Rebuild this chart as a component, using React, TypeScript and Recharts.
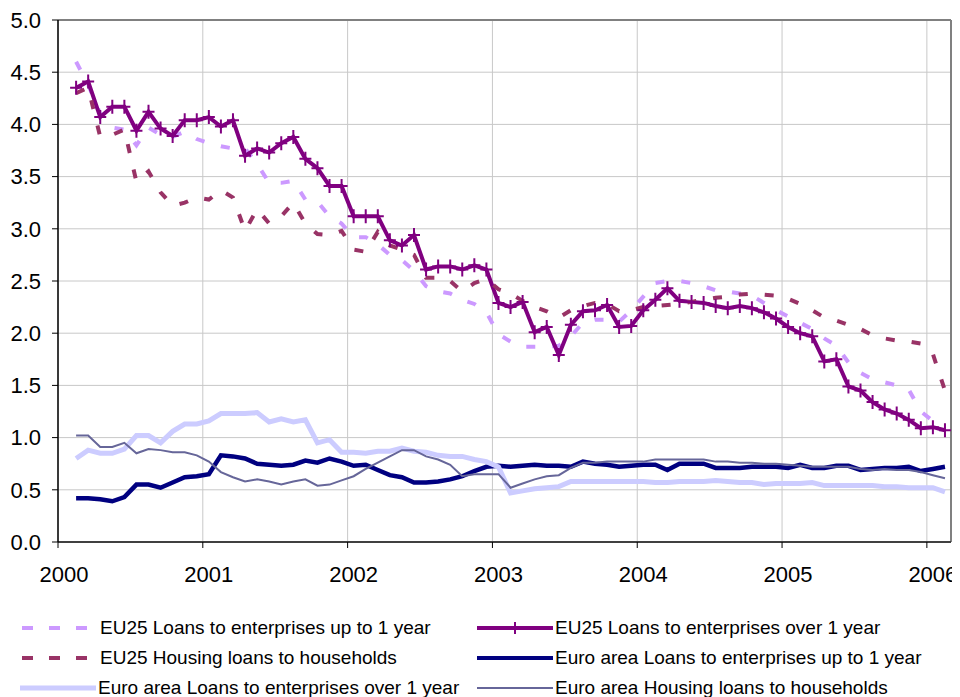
import React from "react";
import { LineChart, Line, XAxis, YAxis, CartesianGrid, ReferenceLine } from "recharts";

const periods = [
  "2000-02","2000-03","2000-04","2000-05","2000-06","2000-07","2000-08","2000-09","2000-10","2000-11","2000-12",
  "2001-01","2001-02","2001-03","2001-04","2001-05","2001-06","2001-07","2001-08","2001-09","2001-10","2001-11","2001-12",
  "2002-01","2002-02","2002-03","2002-04","2002-05","2002-06","2002-07","2002-08","2002-09","2002-10","2002-11","2002-12",
  "2003-01","2003-02","2003-03","2003-04","2003-05","2003-06","2003-07","2003-08","2003-09","2003-10","2003-11","2003-12",
  "2004-01","2004-02","2004-03","2004-04","2004-05","2004-06","2004-07","2004-08","2004-09","2004-10","2004-11","2004-12",
  "2005-01","2005-02","2005-03","2005-04","2005-05","2005-06","2005-07","2005-08","2005-09","2005-10","2005-11","2005-12",
  "2006-01","2006-02",
];

const eu25Short = [
  4.60, 4.38, 4.10, 3.97, 3.95, 3.80, 3.97, 3.90, 3.88, 3.93,
  3.86, 3.82, 3.79, 3.77, 3.77, 3.62, 3.44, 3.44, 3.46, 3.28,
  3.26, 3.12, 3.05, 2.92, 2.92, 2.85, 2.75, 2.70, 2.60, 2.45,
  2.40, 2.38, 2.32, 2.28, 2.20, 1.99, 1.92, 1.87, 1.87, 1.87,
  1.88, 1.97, 2.10, 2.13, 2.13, 2.11, 2.22, 2.35, 2.48, 2.50,
  2.50, 2.48, 2.45, 2.41, 2.40, 2.38, 2.36, 2.29, 2.22, 2.16,
  2.10, 2.04, 1.95, 1.88, 1.72, 1.62, 1.56, 1.53, 1.50, 1.46,
  1.25, 1.16, 1.15,
];

const eu25Long = [
  4.35, 4.41, 4.07, 4.17, 4.17, 3.94, 4.12, 3.96, 3.89, 4.04,
  4.04, 4.07, 3.98, 4.04, 3.70, 3.77, 3.73, 3.82, 3.88, 3.67,
  3.58, 3.41, 3.41, 3.12, 3.12, 3.12, 2.89, 2.84, 2.94, 2.61,
  2.64, 2.64, 2.61, 2.65, 2.61, 2.29, 2.25, 2.30, 2.01, 2.06,
  1.79, 2.08, 2.21, 2.22, 2.27, 2.06, 2.07, 2.22, 2.32, 2.43,
  2.31, 2.30, 2.29, 2.26, 2.24, 2.26, 2.24, 2.20, 2.14, 2.06,
  2.00, 1.97, 1.73, 1.75, 1.49, 1.45, 1.34, 1.27, 1.23, 1.17,
  1.09, 1.10, 1.07,
];

const eu25Housing = [
  4.30, 4.35, 3.88, 3.90, 3.95, 3.45, 3.55, 3.35, 3.22, 3.25,
  3.30, 3.28, 3.37, 3.30, 2.98, 3.19, 3.05, 3.12, 3.25, 3.05,
  2.95, 2.94, 2.98, 2.80, 2.78, 2.97, 2.84, 2.80, 2.75, 2.53,
  2.53, 2.50, 2.40, 2.48, 2.52, 2.42, 2.38, 2.31, 2.25, 2.21,
  2.15, 2.22, 2.26, 2.29, 2.28, 2.21, 2.22, 2.25, 2.26, 2.27,
  2.28, 2.30, 2.32, 2.34, 2.35, 2.37, 2.38, 2.37, 2.36, 2.33,
  2.28, 2.22, 2.15, 2.12, 2.08, 2.04, 1.98, 1.95, 1.93, 1.92,
  1.90, 1.80, 1.45,
];

const euroShort = [
  0.42, 0.42, 0.41, 0.39, 0.43, 0.55, 0.55, 0.52, 0.57, 0.62,
  0.63, 0.65, 0.83, 0.82, 0.80, 0.75, 0.74, 0.73, 0.74, 0.78,
  0.76, 0.80, 0.77, 0.73, 0.74, 0.69, 0.64, 0.62, 0.57, 0.57,
  0.58, 0.60, 0.63, 0.68, 0.72, 0.73, 0.72, 0.73, 0.74, 0.73,
  0.73, 0.72, 0.77, 0.75, 0.74, 0.72, 0.73, 0.74, 0.74, 0.69,
  0.75, 0.75, 0.75, 0.71, 0.71, 0.71, 0.72, 0.72, 0.72, 0.71,
  0.74, 0.71, 0.71, 0.73, 0.73, 0.69, 0.70, 0.71, 0.71, 0.72,
  0.68, 0.70, 0.72,
];

const euroLong = [
  0.80, 0.88, 0.85, 0.85, 0.89, 1.02, 1.02, 0.95, 1.06, 1.13,
  1.13, 1.16, 1.23, 1.23, 1.23, 1.24, 1.15, 1.18, 1.15, 1.17,
  0.95, 0.98, 0.86, 0.86, 0.85, 0.87, 0.87, 0.90, 0.87, 0.86,
  0.83, 0.82, 0.82, 0.79, 0.77, 0.72, 0.47, 0.49, 0.51, 0.52,
  0.53, 0.58, 0.58, 0.58, 0.58, 0.58, 0.58, 0.58, 0.57, 0.57,
  0.58, 0.58, 0.58, 0.59, 0.58, 0.57, 0.57, 0.55, 0.56, 0.56,
  0.56, 0.57, 0.54, 0.54, 0.54, 0.54, 0.54, 0.53, 0.53, 0.52,
  0.52, 0.52, 0.48,
];

const euroHousing = [
  1.02, 1.02, 0.91, 0.91, 0.95, 0.85, 0.89, 0.88, 0.86, 0.86,
  0.83, 0.77, 0.67, 0.62, 0.58, 0.60, 0.58, 0.55, 0.58, 0.60,
  0.54, 0.55, 0.59, 0.63, 0.70, 0.76, 0.82, 0.88, 0.88, 0.82,
  0.79, 0.74, 0.63, 0.65, 0.65, 0.65, 0.52, 0.56, 0.60, 0.63,
  0.64, 0.71, 0.76, 0.76, 0.77, 0.77, 0.77, 0.77, 0.79, 0.79,
  0.79, 0.79, 0.79, 0.77, 0.77, 0.76, 0.76, 0.75, 0.75, 0.74,
  0.73, 0.72, 0.72, 0.72, 0.72, 0.70, 0.69, 0.70, 0.69, 0.69,
  0.67, 0.64, 0.61,
];

const yearTicks = [2000, 2001, 2002, 2003, 2004, 2005, 2006];
const valueTicks = [0, 0.5, 1, 1.5, 2, 2.5, 3, 3.5, 4, 4.5, 5];
const X_MAX = 2006 + 2 / 12;

const seriesNames = {
  eu25Short: "EU25 Loans to enterprises up to 1 year",
  eu25Long: "EU25 Loans to enterprises over 1 year",
  eu25Housing: "EU25 Housing loans to households",
  euroShort: "Euro area Loans to enterprises up to 1 year",
  euroLong: "Euro area Loans to enterprises over 1 year",
  euroHousing: "Euro area Housing loans to households",
};

const toYear = (p: string) => {
  const [y, m] = p.split("-").map(Number);
  return y + (m - 0.5) / 12;
};

const data = periods.map((p, i) => ({
  t: toYear(p),
  eu25Short: eu25Short[i],
  eu25Long: eu25Long[i],
  eu25Housing: eu25Housing[i],
  euroShort: euroShort[i],
  euroLong: euroLong[i],
  euroHousing: euroHousing[i],
}));

const FONT = "'Liberation Sans', Arial, Helvetica, sans-serif";

const XTick = (props: any) => {
  const { x, y, payload } = props;
  return (
    <text x={x + 6} y={y} dy="0.71em" textAnchor="middle" fontSize={22} fontFamily={FONT} fill="#000">
      {payload.value}
    </text>
  );
};

const YTick = (props: any) => {
  const { x, y, payload } = props;
  return (
    <text x={x} y={y} dy="0.355em" textAnchor="end" fontSize={22} fontFamily={FONT} fill="#000">
      {Number(payload.value).toFixed(1)}
    </text>
  );
};

const CrossDot = (props: any) => {
  const { cx, cy, index } = props;
  if (cx == null || cy == null) return <g key={`c${index}`} />;
  return (
    <path
      key={`c${index}`}
      d={`M${cx - 6},${cy} H${cx + 6} M${cx},${cy - 7} V${cy + 7}`}
      stroke="#800080"
      strokeWidth={2}
      fill="none"
    />
  );
};

type LegendItem = { name: string; color: string; width: number; dash?: string; cross?: boolean; x: number; y: number; len: number };

const legendItems: LegendItem[] = [
  { name: seriesNames.eu25Short, color: "#CC99FF", width: 4, dash: "11 16", x: 14, y: 620, len: 66 },
  { name: seriesNames.eu25Long, color: "#800080", width: 4, cross: true, x: 469, y: 620, len: 76 },
  { name: seriesNames.eu25Housing, color: "#993366", width: 4, dash: "11 16", x: 14, y: 650, len: 66 },
  { name: seriesNames.euroShort, color: "#000080", width: 4, x: 469, y: 650, len: 76 },
  { name: seriesNames.euroLong, color: "#CCCCFF", width: 5, x: 12, y: 680, len: 76 },
  { name: seriesNames.euroHousing, color: "#666699", width: 2, x: 469, y: 680, len: 76 },
];

const LegendBlock = () => (
  <>
    {legendItems.map((it) => (
      <div
        key={it.name}
        style={{ position: "absolute", left: it.x, top: it.y - 14, height: 28, display: "flex", alignItems: "center", whiteSpace: "nowrap" }}
      >
        <svg width={it.len} height={28} style={{ display: "block" }}>
          <line x1={0} y1={14} x2={it.len} y2={14} stroke={it.color} strokeWidth={it.width} strokeDasharray={it.dash} />
          {it.cross && <line x1={it.len / 2} y1={8} x2={it.len / 2} y2={20} stroke={it.color} strokeWidth={2} />}
        </svg>
        <span style={{ fontFamily: FONT, fontSize: 19, color: "#000", marginLeft: it.len === 66 ? 12 : 2, lineHeight: "28px" }}>
          {it.name}
        </span>
      </div>
    ))}
  </>
);

export default function App() {
  return (
    <div style={{ position: "relative", width: 952, height: 689 }}>
      <LineChart width={952} height={600} data={data} margin={{ top: 12, right: 9, left: 0, bottom: 0 }}>
        <CartesianGrid stroke="#C8C8C8" strokeWidth={1} />
        <XAxis
          dataKey="t"
          type="number"
          domain={[2000, X_MAX]}
          ticks={yearTicks}
          allowDataOverflow
          height={66}
          tickSize={6}
          tickMargin={18}
          tick={<XTick />}
          axisLine={{ stroke: "#404040", strokeWidth: 2 }}
          tickLine={{ stroke: "#000", strokeWidth: 1 }}
        />
        <YAxis
          type="number"
          domain={[0, 5]}
          ticks={valueTicks}
          width={50}
          tickSize={6}
          tickMargin={11}
          tick={<YTick />}
          axisLine={{ stroke: "#000", strokeWidth: 1.5 }}
          tickLine={{ stroke: "#000", strokeWidth: 1 }}
          interval={0}
        />
        <ReferenceLine y={5} stroke="#808080" strokeWidth={2} />
        <ReferenceLine x={X_MAX} stroke="#808080" strokeWidth={2} />
        <Line dataKey="eu25Short" name={seriesNames.eu25Short} type="linear" stroke="#CC99FF" strokeWidth={4} strokeDasharray="9 17" dot={false} activeDot={false} isAnimationActive={false} />
        <Line dataKey="eu25Long" name={seriesNames.eu25Long} type="linear" stroke="#800080" strokeWidth={4} dot={<CrossDot />} activeDot={false} isAnimationActive={false} />
        <Line dataKey="eu25Housing" name={seriesNames.eu25Housing} type="linear" stroke="#993366" strokeWidth={4} strokeDasharray="9 17" dot={false} activeDot={false} isAnimationActive={false} />
        <Line dataKey="euroShort" name={seriesNames.euroShort} type="linear" stroke="#000080" strokeWidth={4.5} dot={false} activeDot={false} isAnimationActive={false} />
        <Line dataKey="euroLong" name={seriesNames.euroLong} type="linear" stroke="#CCCCFF" strokeWidth={5} dot={false} activeDot={false} isAnimationActive={false} />
        <Line dataKey="euroHousing" name={seriesNames.euroHousing} type="linear" stroke="#666699" strokeWidth={2} dot={false} activeDot={false} isAnimationActive={false} />
      </LineChart>
      <LegendBlock />
    </div>
  );
}
